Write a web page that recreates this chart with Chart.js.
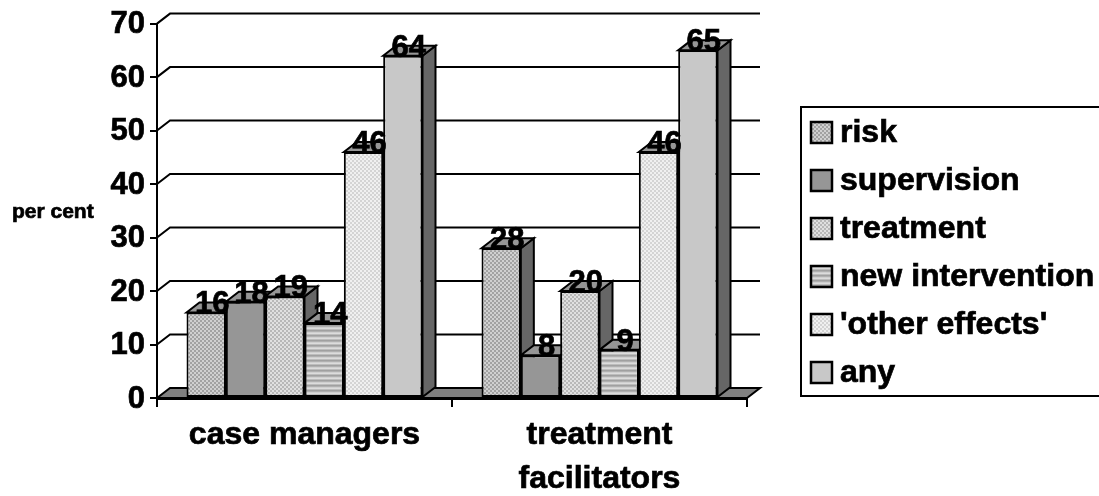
<!DOCTYPE html>
<html>
<head>
<meta charset="utf-8">
<title>Per cent by role</title>
<style>
  html, body { margin: 0; padding: 0; background: #fff; }
  canvas { display: block; }
</style>
<script src="https://cdn.jsdelivr.net/npm/chart.js@4/dist/chart.umd.js"></script>
</head>
<body>
<canvas id="chart" width="1099" height="496"></canvas>
<script>
// Data
const categories = ['case managers', ['treatment', 'facilitators']];
const seriesNames = ['risk', 'supervision', 'treatment', 'new intervention', "'other effects'", 'any'];
const risk = [16, 28];
const supervision = [18, 8];
const treatment = [19, 20];
const newIntervention = [14, 9];
const otherEffects = [46, 46];
const anyEffect = [64, 65];
const yTicks = [0, 10, 20, 30, 40, 50, 60, 70];
const yAxisLabel = 'per cent';

const FONT = '"Liberation Sans", Arial, sans-serif';
const DEPTH_X = 13;
const DEPTH_Y = 10;
const TEXT_WEIGHT = 0.7;

// Small repeating fills
function tile(w, h, paint) {
  const c = document.createElement('canvas');
  c.width = w; c.height = h;
  paint(c.getContext('2d'));
  return c.getContext('2d').createPattern(c, 'repeat');
}
function checker(dark, light) {
  return tile(4, 4, g => {
    g.fillStyle = light; g.fillRect(0, 0, 4, 4);
    g.fillStyle = dark; g.fillRect(0, 0, 2, 2); g.fillRect(2, 2, 2, 2);
  });
}
function stripes(colors) {
  return tile(1, colors.length, g => {
    colors.forEach((c, i) => { g.fillStyle = c; g.fillRect(0, i, 1, 1); });
  });
}
const fills = [
  checker('#a2a2a2', '#d0d0d0'),
  '#969696',
  checker('#b8b8b8', '#e0e0e0'),
  stripes(['#a0a0a0', '#b0b0b0', '#cfcfcf', '#dcdcdc', '#bcbcbc']),
  checker('#d4d4d4', '#f0f0f0'),
  '#c8c8c8'
];

function label(ctx, text, x, y) {
  ctx.lineWidth = TEXT_WEIGHT;
  ctx.strokeStyle = '#000';
  ctx.fillStyle = '#000';
  ctx.fillText(text, x, y);
  ctx.strokeText(text, x, y);
}

// Extruded side and top faces, back wall rules and floor
const depthFaces = {
  id: 'depthFaces',
  beforeDatasetsDraw(chart) {
    const { ctx, chartArea: area, scales: { y } } = chart;
    const floorY = y.getPixelForValue(0);
    ctx.save();
    ctx.lineJoin = 'miter';
    ctx.lineWidth = 2;
    ctx.strokeStyle = '#000';

    // wall rules
    yTicks.filter(v => v > 0).forEach(v => {
      const py = y.getPixelForValue(v);
      ctx.beginPath();
      ctx.moveTo(area.left, py);
      ctx.lineTo(area.left + DEPTH_X, py - DEPTH_Y);
      ctx.lineTo(area.right + DEPTH_X, py - DEPTH_Y);
      ctx.stroke();
    });

    // floor
    ctx.fillStyle = '#808080';
    ctx.beginPath();
    ctx.moveTo(area.left, floorY);
    ctx.lineTo(area.left + DEPTH_X, floorY - DEPTH_Y);
    ctx.lineTo(area.right + DEPTH_X, floorY - DEPTH_Y);
    ctx.lineTo(area.right, floorY);
    ctx.closePath();
    ctx.fill();
    ctx.stroke();

    // faces, painted left to right so each bar hides its neighbour's side
    const face = (pts, color) => {
      ctx.fillStyle = color;
      ctx.beginPath();
      pts.forEach((p, i) => (i ? ctx.lineTo(p[0], p[1]) : ctx.moveTo(p[0], p[1])));
      ctx.closePath();
      ctx.fill();
      ctx.stroke();
    };
    categories.forEach((_, ci) => {
      chart.data.datasets.forEach((_, di) => {
        const bar = chart.getDatasetMeta(di).data[ci];
        const x0 = bar.x - bar.width / 2;
        const x1 = bar.x + bar.width / 2;
        face([[x1, bar.y], [x1 + DEPTH_X, bar.y - DEPTH_Y], [x1 + DEPTH_X, bar.base - DEPTH_Y], [x1, bar.base]], '#666666');
        face([[x0, bar.y], [x0 + DEPTH_X, bar.y - DEPTH_Y], [x1 + DEPTH_X, bar.y - DEPTH_Y], [x1, bar.y]], '#969696');
      });
    });
    ctx.restore();
  },
  afterDatasetsDraw(chart) {
    // value labels resting on the front top edge of each bar
    const { ctx } = chart;
    ctx.save();
    ctx.font = 'bold 31px ' + FONT;
    ctx.textAlign = 'center';
    ctx.textBaseline = 'alphabetic';
    chart.data.datasets.forEach((ds, di) => {
      chart.getDatasetMeta(di).data.forEach((bar, i) => {
        label(ctx, String(ds.data[i]), bar.x + 6, bar.y + 1);
      });
    });
    ctx.restore();
  }
};

// Axis caption and framed key
const furniture = {
  id: 'furniture',
  afterDraw(chart) {
    const { ctx } = chart;
    ctx.save();
    ctx.textBaseline = 'middle';
    ctx.textAlign = 'left';
    ctx.font = 'bold 21px ' + FONT;
    label(ctx, yAxisLabel, 12, 212);

    ctx.lineWidth = 2;
    ctx.strokeStyle = '#000';
    ctx.strokeRect(801, 107, 310, 289);

    ctx.font = 'bold 32px ' + FONT;
    chart.data.datasets.forEach((ds, i) => {
      const cy = 132 + i * 48;
      ctx.fillStyle = ds.backgroundColor;
      ctx.fillRect(811, cy - 10, 21, 21);
      ctx.lineWidth = 2.5;
      ctx.strokeStyle = '#000';
      ctx.strokeRect(811, cy - 10, 21, 21);
      label(ctx, ds.label, 840, cy + 1);
    });
    ctx.restore();
  }
};

const values = [risk, supervision, treatment, newIntervention, otherEffects, anyEffect];

new Chart(document.getElementById('chart'), {
  type: 'bar',
  data: {
    labels: categories,
    datasets: seriesNames.map((name, i) => ({
      label: name,
      data: values[i],
      backgroundColor: fills[i],
      borderColor: '#000',
      borderWidth: 2,
      borderSkipped: false
    }))
  },
  plugins: [depthFaces, furniture],
  options: {
    responsive: false,
    animation: false,
    devicePixelRatio: 1,
    layout: { padding: { top: 23, right: 352, bottom: 0, left: 0 } },
    datasets: { bar: { barPercentage: 1, categoryPercentage: 0.8 } },
    plugins: { legend: { display: false }, tooltip: { enabled: false }, title: { display: false } },
    scales: {
      x: {
        afterFit(scale) { scale.height = 98; },
        border: { color: '#000', width: 3, z: 2 },
        grid: { drawOnChartArea: false, color: '#000', lineWidth: 2, tickLength: 9, offset: true },
        ticks: {
          color: '#000',
          font: { family: FONT, size: 32, weight: 'bold', lineHeight: 1.38 },
          textStrokeColor: '#000',
          textStrokeWidth: TEXT_WEIGHT,
          maxRotation: 0,
          autoSkip: false,
          padding: 6
        }
      },
      y: {
        min: 0,
        max: 70,
        afterFit(scale) { scale.width = 157; },
        afterBuildTicks(scale) { scale.ticks = yTicks.map(v => ({ value: v })); },
        border: { color: '#000', width: 2, z: 2 },
        grid: { drawOnChartArea: false, color: '#000', lineWidth: 2, tickLength: 7 },
        ticks: {
          color: '#000',
          font: { family: FONT, size: 31, weight: 'bold' },
          textStrokeColor: '#000',
          textStrokeWidth: TEXT_WEIGHT,
          labelOffset: 1,
          padding: 5
        }
      }
    }
  }
});
</script>
</body>
</html>
